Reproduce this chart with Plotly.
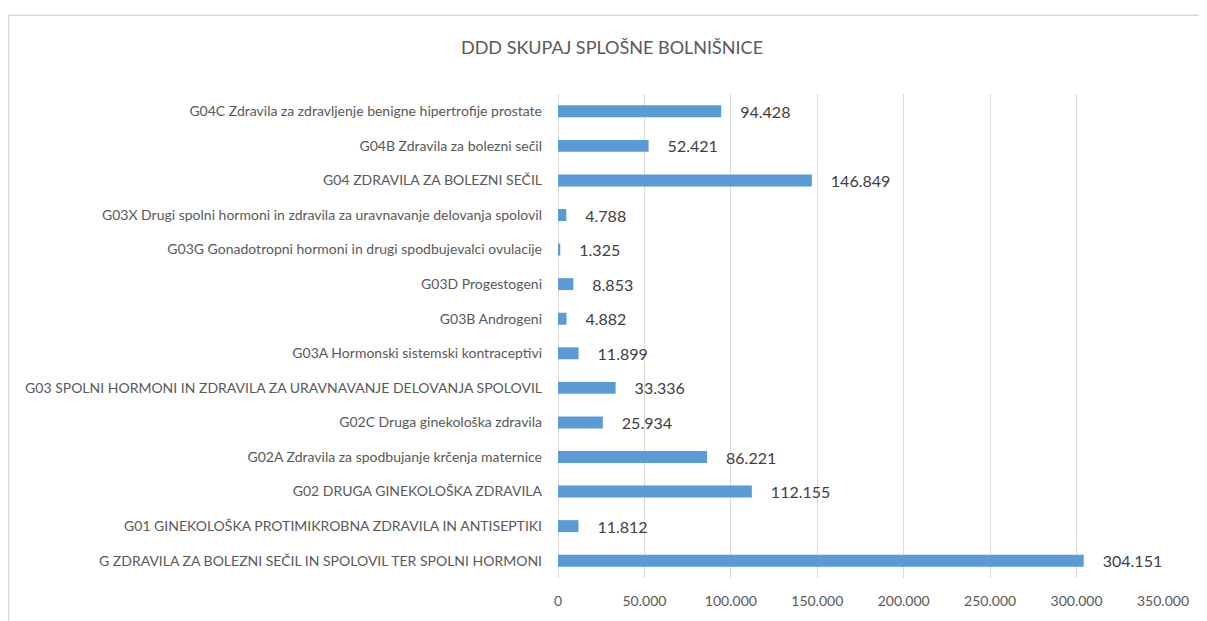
import plotly.graph_objects as go

categories = [
    "G ZDRAVILA ZA BOLEZNI SEČIL IN SPOLOVIL TER SPOLNI HORMONI",
    "G01 GINEKOLOŠKA PROTIMIKROBNA ZDRAVILA IN ANTISEPTIKI",
    "G02 DRUGA GINEKOLOŠKA ZDRAVILA",
    "G02A Zdravila za spodbujanje krčenja maternice",
    "G02C Druga ginekološka zdravila",
    "G03 SPOLNI HORMONI IN ZDRAVILA ZA URAVNAVANJE DELOVANJA SPOLOVIL",
    "G03A Hormonski sistemski kontraceptivi",
    "G03B Androgeni",
    "G03D Progestogeni",
    "G03G Gonadotropni hormoni in drugi spodbujevalci ovulacije",
    "G03X Drugi spolni hormoni in zdravila za uravnavanje delovanja spolovil",
    "G04 ZDRAVILA ZA BOLEZNI SEČIL",
    "G04B Zdravila za bolezni sečil",
    "G04C Zdravila za zdravljenje benigne hipertrofije prostate",
]
values = [304151, 11812, 112155, 86221, 25934, 33336, 11899, 4882, 8853, 1325, 4788, 146849, 52421, 94428]
tick_vals = [0, 50000, 100000, 150000, 200000, 250000, 300000, 350000]
tick_text = ["0", "50.000", "100.000", "150.000", "200.000", "250.000", "300.000", "350.000"]
title_text = "DDD SKUPAJ SPLOŠNE BOLNIŠNICE"


def fmt(v):
    return f"{v:,}".replace(",", ".")


labels = ["\u2002\u2002" + fmt(v) for v in values]

FONT = "Lato"
# page body has an 8px margin; figure coordinates = page coordinates - 8
W, H = 1199, 613
L, R, T, B = 550, 44, 86, 41

fig = go.Figure(
    go.Bar(
        y=categories,
        x=values,
        orientation="h",
        marker=dict(color="#5B9BD5", line=dict(width=0)),
        text=labels,
        textposition="outside",
        constraintext="none",
        textfont=dict(family=FONT, size=16, color="#404040"),
        cliponaxis=False,
        hoverinfo="skip",
    )
)

pw = W - L - R
ph = H - T - B

fig.update_layout(
    width=W,
    height=H,
    autosize=False,
    margin=dict(l=L, r=R, t=T, b=B, pad=0),
    paper_bgcolor="white",
    plot_bgcolor="white",
    bargap=0.654,
    showlegend=False,
    font=dict(family=FONT, color="#595959"),
    title=dict(
        text=title_text,
        x=604 / W,
        xanchor="center",
        y=1 - 40 / H,
        yanchor="middle",
        font=dict(family=FONT, size=18, color="#595959"),
    ),
    xaxis=dict(
        range=[0, 350000],
        tickvals=tick_vals,
        ticktext=tick_text,
        showgrid=True,
        gridcolor="#D9D9D9",
        gridwidth=1,
        zeroline=True,
        zerolinecolor="#D9D9D9",
        zerolinewidth=1,
        showline=False,
        ticks="",
        ticklabelstandoff=13,
        tickfont=dict(family=FONT, size=14, color="#595959"),
        fixedrange=True,
    ),
    yaxis=dict(
        categoryorder="array",
        categoryarray=categories,
        showgrid=False,
        zeroline=False,
        showline=False,
        ticks="",
        ticklabelstandoff=15,
        tickfont=dict(family=FONT, size=14, color="#595959"),
        fixedrange=True,
    ),
    shapes=[
        dict(
            type="rect",
            xref="paper",
            yref="paper",
            x0=(0.5 - L) / pw,
            x1=(W + 10 - L) / pw,
            y0=-(H + 10 - (H - B)) / ph,
            y1=((H - B) - 7) / ph,
            line=dict(color="#D9D9D9", width=1.5),
            fillcolor="rgba(0,0,0,0)",
            layer="below",
        )
    ],
)

fig.write_html("out.html")
